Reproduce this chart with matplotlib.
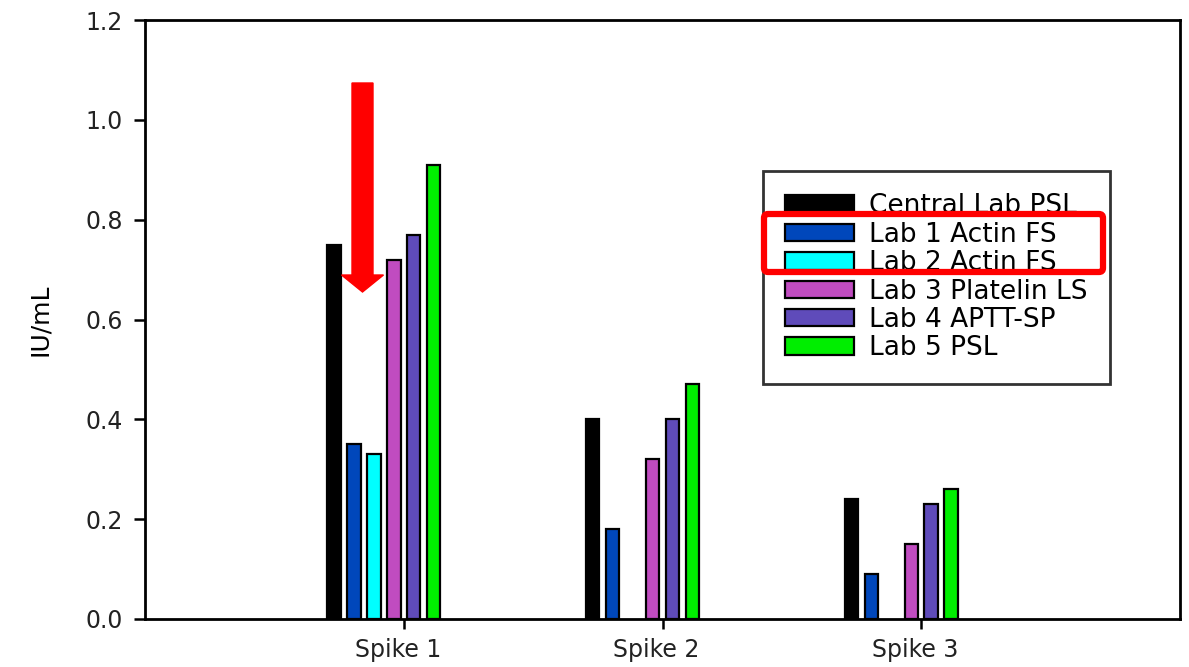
import numpy as np
import matplotlib
matplotlib.use("Agg")
import matplotlib.pyplot as plt
from matplotlib.patches import FancyArrow, FancyBboxPatch
from matplotlib.transforms import IdentityTransform, ScaledTranslation

plt.rcParams['font.family'] = ['DejaVu Sans']

# data
groups = ["Spike 1", "Spike 2", "Spike 3"]
labs = ["Central Lab PSL", "Lab 1 Actin FS", "Lab 2 Actin FS",
        "Lab 3 Platelin LS", "Lab 4 APTT-SP", "Lab 5 PSL"]
central = [0.75, 0.40, 0.24]
lab1 = [0.35, 0.18, 0.09]
lab2 = [0.33, np.nan, np.nan]
lab3 = [0.72, 0.32, 0.15]
lab4 = [0.77, 0.40, 0.23]
lab5 = [0.91, 0.47, 0.26]
colors = ["#000000", "#0047bb", "#00ffff", "#c04cc0", "#5f4bba", "#00ee00"]

series = [central, lab1, lab2, lab3, lab4, lab5]

fig = plt.figure(figsize=(11.89, 6.67), dpi=100)
ax = fig.add_axes([145 / 1189, 48 / 667, 1035 / 1189, 599 / 667])

x = np.arange(1, len(groups) + 1)
slot = 0.077
for i, (vals, lab, c) in enumerate(zip(series, labs, colors)):
    ax.bar(x + (i - 3.5) * slot, vals, width=0.052, color=c,
           edgecolor="black", linewidth=1.6, label=lab)

ax.set_xlim(0, 4)
ax.set_ylim(0, 1.2)
yt = np.arange(0, 1.21, 0.2)
ax.set_yticks(yt)
ax.set_yticklabels([f"{v:.1f}" for v in yt])
ax.set_xticks(x)
ax.set_xticklabels(groups)
ax.tick_params(axis="y", direction="out", length=8, width=1.8, labelsize=17, pad=8,
               labelcolor="#222222")
ax.tick_params(axis="x", direction="out", length=7, width=1.8, labelsize=17, pad=7,
               labelcolor="#222222")
# group labels sit a little left of their tick marks
shift = ScaledTranslation(-6 / 100, 0, fig.dpi_scale_trans)
for t in ax.get_xticklabels():
    t.set_transform(t.get_transform() + shift)
for s in ax.spines.values():
    s.set_linewidth(2)
ax.set_ylabel("IU/mL", fontsize=18, labelpad=24)

leg = ax.legend(loc="upper left",
                bbox_to_anchor=((763 - 145) / 1035, (667 - 171 - 48) / 599),
                fontsize=19, frameon=True, fancybox=False, edgecolor="black",
                handlelength=2.58, handleheight=0.64, handletextpad=0.6,
                labelspacing=0.09, borderpad=0.85, borderaxespad=0)
leg.get_frame().set_linewidth(2)

# red highlight box around Lab 1 / Lab 2 entries (pixel coords)
box = FancyBboxPatch((764, 667 - 272), 339, 58, boxstyle="round,pad=0,rounding_size=4",
                     fill=False, edgecolor="red", linewidth=4.5,
                     transform=IdentityTransform())
fig.add_artist(box)

# red arrow pointing down at Spike 1
arrow = FancyArrow(362.5, 667 - 83, 0, -192, width=21, head_width=42, head_length=17,
                   length_includes_head=False, color="red", transform=IdentityTransform())
fig.add_artist(arrow)

fig.savefig("out.png", dpi=100)
